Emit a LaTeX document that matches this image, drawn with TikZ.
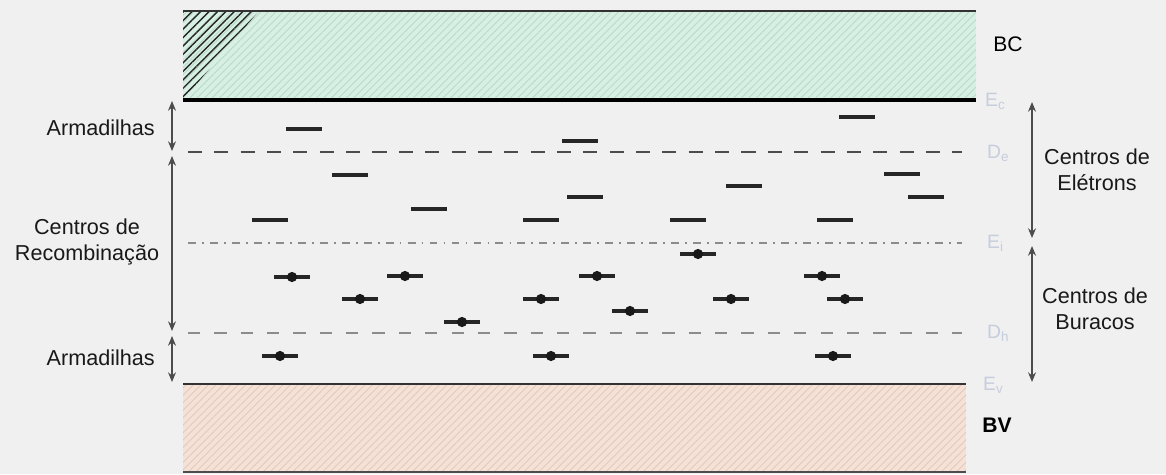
\documentclass[tikz,border=0pt]{standalone}
\usepackage{fontspec}
\setmainfont{Liberation Sans}
\usetikzlibrary{arrows.meta,patterns.meta}

\definecolor{paper}{HTML}{F0F0F0}
\definecolor{bcfill}{HTML}{D7F0E3}
\definecolor{bchatch}{HTML}{B9D9C9}
\definecolor{bvfill}{HTML}{F6E1D7}
\definecolor{bvhatch}{HTML}{E2C9BE}
\definecolor{elabel}{HTML}{C6CDDD}

\tikzset{
  edge/.style={line width=1.3pt, draw=black!80},
  level/.style={line width=2.2pt, draw=black!85},
  filled/.style={fill=black!90},
  span/.style={{Stealth[length=5.5pt,width=4.5pt]}-{Stealth[length=5.5pt,width=4.5pt]}, line width=0.8pt, draw=black!70},
  energy/.style={text=elabel, font=\fontsize{11}{13}\selectfont, anchor=west, inner sep=1pt},
  tag/.style={font=\fontsize{12.3}{15}\selectfont, align=center, text=black!90}
}

\begin{document}
\begin{tikzpicture}[x=0.02cm,y=-0.02cm]
\fill[paper] (0,0) rectangle (1166,474);

% conduction band
\fill[bcfill] (183,11) rectangle (976,100);
\fill[pattern={Lines[angle=45,distance=3pt,line width=0.5pt]}, pattern color=bchatch] (183,11) rectangle (976,100);
\fill[pattern={Lines[angle=45,distance=3.4pt,line width=0.8pt]}, pattern color=black!85] (183,12) -- (258,12) -- (183,100) -- cycle;
\draw[edge] (183,11) -- (976,11);
\draw[line width=1.8pt] (183,100) -- (976,100);

% valence band
\fill[bvfill] (183,384) rectangle (966,472);
\fill[pattern={Lines[angle=45,distance=3pt,line width=0.5pt]}, pattern color=bvhatch] (183,384) rectangle (966,472);
\draw[edge] (183,384) -- (966,384);
\draw[line width=0.8pt, black!70] (183,472) -- (966,472);

% reference levels
\draw[line width=1pt, black!70, dash pattern=on 8pt off 7pt] (188,152) -- (962,152);
\draw[line width=0.7pt, black!45, dash pattern=on 4.5pt off 3.5pt on 1pt off 3.5pt] (188,243) -- (962,243);
\draw[line width=0.8pt, black!45, dash pattern=on 7pt off 8pt] (188,333) -- (962,333);

% empty levels
\foreach \x/\y in {304/129, 857/117, 580/141, 350/175, 902/174, 744/186, 429/209,
                   585/197, 926/197, 270/220, 541/220, 688/220, 835/220}
  \draw[level] ({\x-18},\y) -- ({\x+18},\y);

% occupied levels
\foreach \x/\y in {698/254, 292/277, 405/276, 597/276, 822/276, 360/299, 541/299,
                   731/299, 845/299, 630/311, 462/322, 280/356, 551/356, 833/356} {
  \draw[level] ({\x-18},\y) -- ({\x+18},\y);
  \fill[filled] (\x,\y) circle[radius=2.9pt];
}

% energy labels
\node[energy] (lEc) at (983,101) {E\textsubscript{c}};
\node[energy] (lDe) at (985,153) {D\textsubscript{e}};
\node[energy] (lEi) at (985,243) {E\textsubscript{i}};
\node[energy] (lDh) at (985,333) {D\textsubscript{h}};
\node[energy] (lEv) at (981,385) {E\textsubscript{v}};

\node[font=\fontsize{12}{15}\selectfont] (bc) at (1008,44) {BC};
\node[font=\bfseries\fontsize{12}{15}\selectfont] (bv) at (997,425) {BV};

% left spans
\coordinate (a1) at (172,101);
\coordinate (a2) at (172,151);
\coordinate (a3) at (172,156);
\coordinate (a4) at (172,331);
\coordinate (a5) at (172,336);
\coordinate (a6) at (172,382);
\draw[span] (a1) -- (a2);
\draw[span] (a3) -- (a4);
\draw[span] (a5) -- (a6);

\node[tag, anchor=east] (trapUp) at (161,128) {Armadilhas};
\node[tag] (recomb) at (87,242) {Centros de\\Recombinação};
\node[tag, anchor=east] (trapDown) at (161,358) {Armadilhas};

% right spans
\coordinate (b1) at (1032,102);
\coordinate (b2) at (1032,238);
\coordinate (b3) at (1032,246);
\coordinate (b4) at (1032,382);
\draw[span] (b1) -- (b2);
\draw[span] (b3) -- (b4);

\node[tag] (elec) at (1097,170) {Centros de\\Elétrons};
\node[tag] (hole) at (1095,309) {Centros de\\Buracos};
\end{tikzpicture}
\end{document}
